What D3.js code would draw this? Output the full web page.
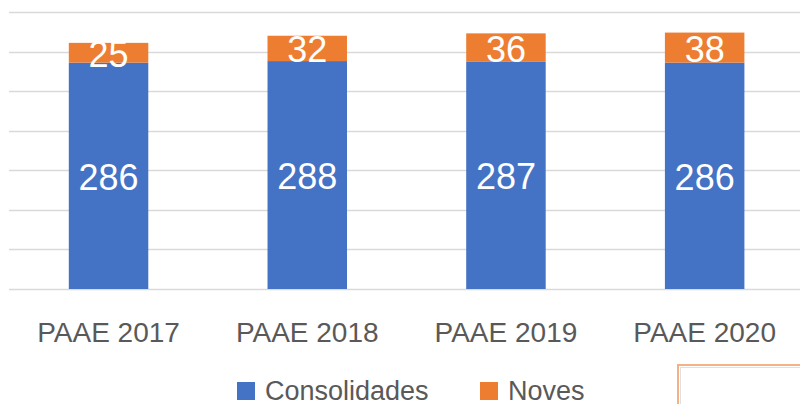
<!DOCTYPE html>
<html>
<head>
<meta charset="utf-8">
<script src="https://cdn.jsdelivr.net/npm/d3@7"></script>
<style>
  body { margin: 0; background: #ffffff; }
  svg { display: block; font-family: "Liberation Sans", Arial, sans-serif; }
</style>
</head>
<body>
<div id="chart"></div>
<script>
// Dades del gràfic
const categories = ["PAAE 2017", "PAAE 2018", "PAAE 2019", "PAAE 2020"];
const consolidades = [286, 288, 287, 286];
const noves = [25, 32, 36, 38];
const seriesNames = ["Consolidades", "Noves"];
const gridTicks = [0, 50, 100, 150, 200, 250, 300, 350];

const width = 800, height = 404;
const colors = { Consolidades: "#4472c4", Noves: "#ed7d31" };

const svg = d3.select("#chart")
    .append("svg")
    .attr("width", width)
    .attr("height", height);

const x = d3.scaleBand()
    .domain(categories)
    .range([9.2, 804])
    .paddingInner(0.6)
    .paddingOuter(0.3);

const y = d3.scaleLinear()
    .domain([0, 350])
    .range([289, 12]);

// Línies de graella
svg.append("g")
    .attr("class", "grid")
    .selectAll("line")
    .data(gridTicks)
    .enter()
    .append("line")
    .attr("x1", 9)
    .attr("x2", width)
    .attr("y1", d => Math.round(y(d)) + 0.5)
    .attr("y2", d => Math.round(y(d)) + 0.5)
    .attr("stroke", "#d9d9d9")
    .attr("stroke-width", 1.5);

const rows = categories.map((c, i) => ({ cat: c, Consolidades: consolidades[i], Noves: noves[i] }));
const stacked = d3.stack().keys(seriesNames)(rows);

// Barres apilades
const layers = svg.selectAll(".layer")
    .data(stacked)
    .enter()
    .append("g")
    .attr("class", "layer")
    .attr("fill", d => colors[d.key]);

layers.selectAll("rect")
    .data(d => d)
    .enter()
    .append("rect")
    .attr("x", d => x(d.data.cat))
    .attr("width", x.bandwidth())
    .attr("y", d => y(d[1]))
    .attr("height", d => y(d[0]) - y(d[1]));

// Etiquetes de dades
layers.selectAll("text")
    .data(d => d)
    .enter()
    .append("text")
    .attr("x", d => x(d.data.cat) + x.bandwidth() / 2)
    .attr("y", d => (y(d[0]) + y(d[1])) / 2 + 14)
    .attr("text-anchor", "middle")
    .attr("font-size", "36px")
    .attr("fill", "#ffffff")
    .text(d => d[1] - d[0]);

// Eix X (només etiquetes)
svg.append("g")
    .selectAll("text")
    .data(categories)
    .enter()
    .append("text")
    .attr("x", d => x(d) + x.bandwidth() / 2)
    .attr("y", 342)
    .attr("text-anchor", "middle")
    .attr("font-size", "28px")
    .attr("fill", "#595959")
    .text(d => d);

// Llegenda
const legendX = [237, 480];
const legend = svg.append("g")
    .selectAll("g")
    .data(seriesNames)
    .enter()
    .append("g")
    .attr("transform", (d, i) => `translate(${legendX[i]},382)`);

legend.append("rect")
    .attr("width", 18)
    .attr("height", 18)
    .attr("fill", d => colors[d]);

legend.append("text")
    .attr("x", 28)
    .attr("y", 18)
    .attr("font-size", "27px")
    .attr("fill", "#595959")
    .text(d => d);

// Quadre de text buit a la cantonada
svg.append("rect")
    .attr("x", 678)
    .attr("y", 365)
    .attr("width", 140)
    .attr("height", 60)
    .attr("fill", "#ffffff")
    .attr("stroke", "#f4b183")
    .attr("stroke-width", 2);

svg.append("rect")
    .attr("x", 680.5)
    .attr("y", 367.5)
    .attr("width", 140)
    .attr("height", 60)
    .attr("fill", "none")
    .attr("stroke", "#e0e0e0")
    .attr("stroke-width", 1);
</script>
</body>
</html>
